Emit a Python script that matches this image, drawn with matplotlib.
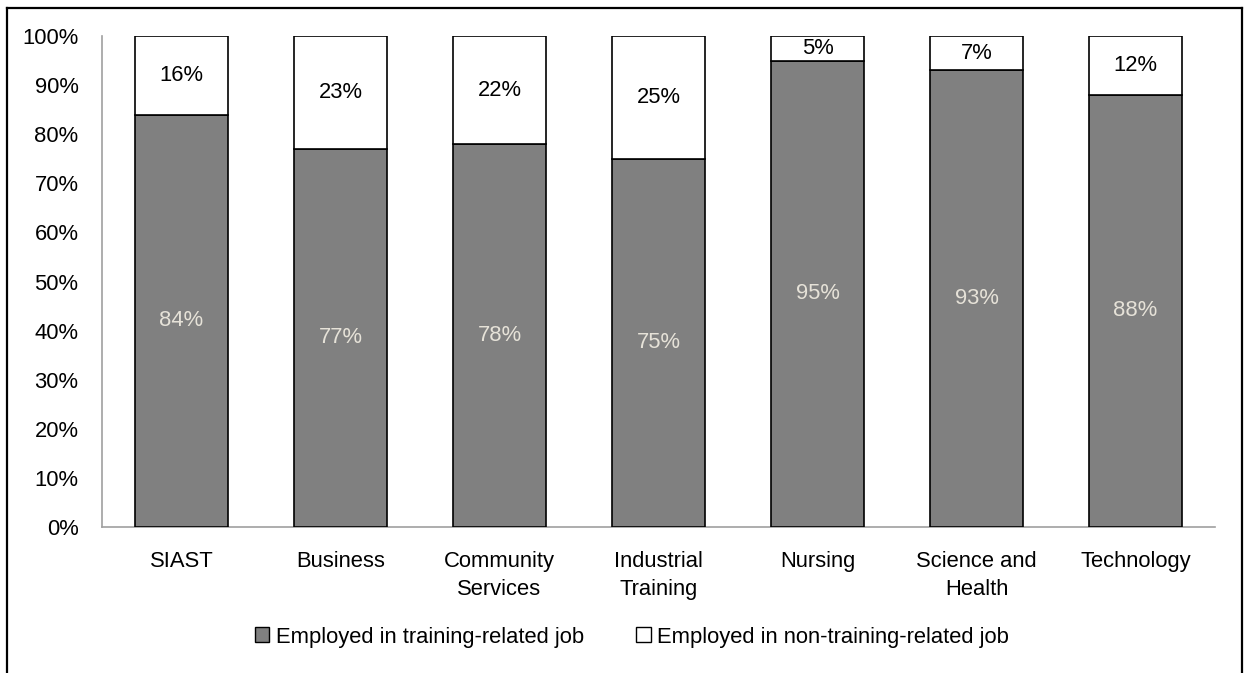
import matplotlib
matplotlib.use("Agg")
import matplotlib.pyplot as plt
from matplotlib.lines import Line2D
from matplotlib.patches import Patch

categories = ["SIAST", "Business", "Community\nServices", "Industrial\nTraining",
              "Nursing", "Science and\nHealth", "Technology"]
related = [84, 77, 78, 75, 95, 93, 88]
non_related = [16, 23, 22, 25, 5, 7, 12]
yticks = [0, 10, 20, 30, 40, 50, 60, 70, 80, 90, 100]
series_names = ["Employed in training-related job", "Employed in non-training-related job"]

plt.rcParams['font.family'] = ['Liberation Sans', 'DejaVu Sans']
FS = 15.8
W, H = 1244, 673
fig = plt.figure(figsize=(W / 100, H / 100), dpi=100)
ax = fig.add_axes([102 / W, 1 - 527 / H, (1215 - 102) / W, (527 - 36) / H])

x = list(range(len(categories)))
bw = 0.58
ax.bar(x, related, width=bw, color="#808080", edgecolor="black", linewidth=1.2, zorder=3)
ax.bar(x, non_related, width=bw, bottom=related, color="white", edgecolor="black",
       linewidth=1.2, zorder=3)

for i in x:
    ax.text(i, related[i] / 2, f"{related[i]}%", ha="center", va="center",
            color="#E6E2D8", fontsize=FS)
    ax.text(i, related[i] + non_related[i] / 2, f"{non_related[i]}%", ha="center",
            va="center", color="black", fontsize=FS)

ax.set_xlim(-0.5, len(categories) - 0.5)
ax.set_ylim(0, 100)
ax.set_yticks(yticks)
ax.set_yticklabels([f"{t}%" for t in yticks], fontsize=FS)
ax.set_xticks(x)
ax.set_xticklabels(categories, fontsize=FS, linespacing=1.45, va="top")
ax.tick_params(axis="both", length=0)
ax.tick_params(axis="y", pad=17)
ax.tick_params(axis="x", pad=17)
for s in ["top", "right"]:
    ax.spines[s].set_visible(False)
for s in ["left", "bottom"]:
    ax.spines[s].set_color("#A0A0A0")
    ax.spines[s].set_linewidth(1.2)

handles = [Patch(facecolor="#808080", edgecolor="black", linewidth=1.0),
           Patch(facecolor="white", edgecolor="black", linewidth=1.0)]
fig.legend(handles, series_names, loc="center", bbox_to_anchor=(632 / W, 1 - 637 / H),
           ncol=2, frameon=False, fontsize=FS, handlelength=0.65, handleheight=0.65,
           handletextpad=0.3, columnspacing=2.4)

# outer border (bottom edge falls outside the image)
lw = 1.6
fig.add_artist(Line2D([7 / W, 7 / W], [0, 1 - 8 / H], transform=fig.transFigure, color="black", lw=lw))
fig.add_artist(Line2D([1242 / W, 1242 / W], [0, 1 - 8 / H], transform=fig.transFigure, color="black", lw=lw))
fig.add_artist(Line2D([7 / W, 1242 / W], [1 - 8 / H, 1 - 8 / H], transform=fig.transFigure, color="black", lw=lw))

fig.savefig("out.png", dpi=100)
